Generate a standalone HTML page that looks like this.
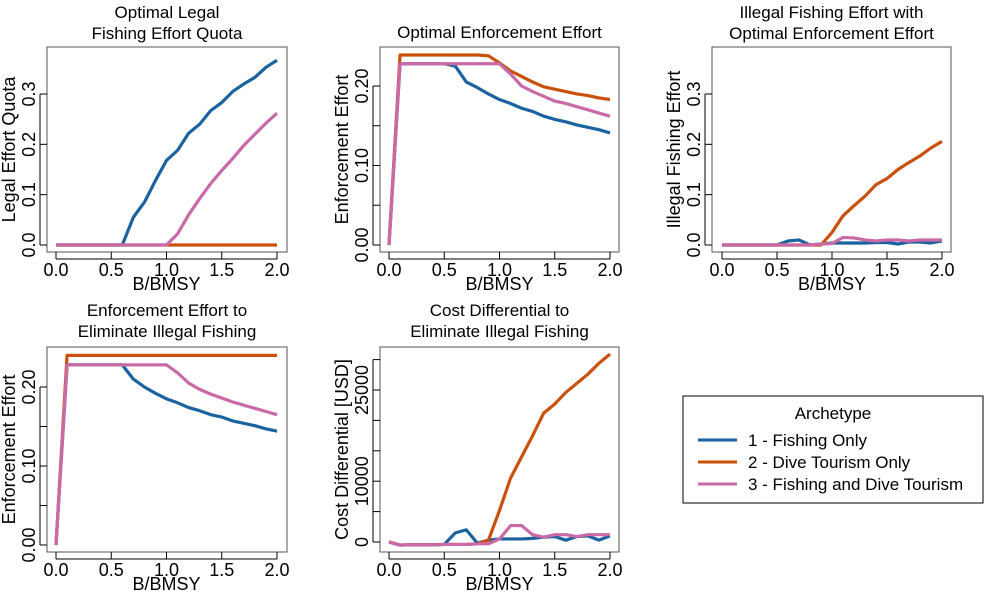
<!DOCTYPE html>
<html><head><meta charset="utf-8"><style>
body{margin:0;background:#fff;}
svg text{font-family:"Liberation Sans",sans-serif;fill:#000;}
</style></head><body>
<svg id="c" width="1000" height="600" xmlns="http://www.w3.org/2000/svg"></svg>
<script>
const xs=[0,0.1,0.2,0.3,0.4,0.5,0.6,0.7,0.8,0.9,1.0,1.1,1.2,1.3,1.4,1.5,1.6,1.7,1.8,1.9,2.0];
const xTicks=[0,0.5,1.0,1.5,2.0];
const xTickLabels=["0.0","0.5","1.0","1.5","2.0"];
const seriesNames=["1 - Fishing Only","2 - Dive Tourism Only","3 - Fishing and Dive Tourism"];
const colors=["#1b62a0","#c9510c","#c96aa6"];
// Panel 1: Legal effort quota
const quotaBlue=[0,0,0,0,0,0,0,0.055,0.085,0.128,0.168,0.188,0.222,0.24,0.267,0.283,0.305,0.32,0.333,0.353,0.367];
const quotaOrange=[0,0,0,0,0,0,0,0,0,0,0,0,0,0,0,0,0,0,0,0,0];
const quotaPink=[0,0,0,0,0,0,0,0,0,0,0,0.022,0.06,0.092,0.122,0.148,0.172,0.198,0.22,0.242,0.262];
const quotaTicks=[0,0.1,0.2,0.3];
const quotaTickLabels=["0.0","0.1","0.2","0.3"];
// Panel 2: Optimal enforcement
const enfBlue=[0,0.228,0.228,0.228,0.228,0.228,0.225,0.205,0.198,0.19,0.183,0.178,0.172,0.168,0.162,0.158,0.155,0.151,0.148,0.145,0.141];
const enfOrange=[0,0.239,0.239,0.239,0.239,0.239,0.239,0.239,0.239,0.238,0.229,0.219,0.212,0.205,0.199,0.196,0.193,0.19,0.188,0.185,0.183];
const enfPink=[0,0.228,0.228,0.228,0.228,0.228,0.228,0.228,0.228,0.228,0.228,0.215,0.2,0.193,0.187,0.181,0.178,0.174,0.17,0.166,0.162];
const enfTicks=[0,0.05,0.1,0.15,0.2];
const enfTickLabels=["0.00","","0.10","","0.20"];
// Panel 3: Illegal fishing effort
const illBlue=[0,0,0,0,0,0,0.008,0.01,0,0.002,0.004,0.004,0.004,0.004,0.005,0.005,0.002,0.006,0.006,0.004,0.008];
const illOrange=[0,0,0,0,0,0,0,0,0,0,0.025,0.058,0.078,0.097,0.12,0.132,0.15,0.164,0.177,0.193,0.206];
const illPink=[0,0,0,0,0,0,0,0,0,0.002,0.003,0.015,0.014,0.01,0.008,0.01,0.01,0.008,0.01,0.01,0.01];
const illTicks=[0,0.1,0.2,0.3];
const illTickLabels=["0.0","0.1","0.2","0.3"];
// Panel 4: Enforcement to eliminate
const elimBlue=[0,0.228,0.228,0.228,0.228,0.228,0.228,0.21,0.2,0.192,0.185,0.18,0.174,0.17,0.165,0.162,0.157,0.154,0.151,0.147,0.144];
const elimOrange=[0,0.24,0.24,0.24,0.24,0.24,0.24,0.24,0.24,0.24,0.24,0.24,0.24,0.24,0.24,0.24,0.24,0.24,0.24,0.24,0.24];
const elimPink=[0,0.228,0.228,0.228,0.228,0.228,0.228,0.228,0.228,0.228,0.228,0.218,0.205,0.197,0.191,0.186,0.181,0.177,0.173,0.169,0.165];
const elimTicks=[0,0.05,0.1,0.15,0.2];
const elimTickLabels=["0.00","","0.10","","0.20"];
// Panel 5: Cost differential
const costBlue=[0,-500,-450,-450,-450,-400,1500,2000,-200,300,500,500,500,600,800,900,300,900,1000,300,1000];
const costOrange=[0,-500,-450,-450,-450,-400,-400,-400,-300,300,5200,10500,14000,17500,21200,22700,24600,26100,27600,29400,30900];
const costPink=[0,-500,-450,-450,-450,-400,-400,-400,-300,-300,500,2700,2700,1200,800,1200,1200,900,1200,1200,1200];
const costTicks=[0,5000,10000,15000,20000,25000,30000];
const costTickLabels=["0","","10000","","","25000",""];

const svg=document.getElementById('c');
const NS="http://www.w3.org/2000/svg";
function mk(tag,attrs,parent){const e=document.createElementNS(NS,tag);for(const k in attrs)e.setAttribute(k,attrs[k]);(parent||svg).appendChild(e);return e;}

function panel(o){
  const g=mk('g',{});
  
  
  const sx=v=>o.x0+(v-0)/2*(o.x1-o.x0);
  const sy=v=>o.y0-(v-o.ymin)/(o.yref-o.ymin)*(o.y0-o.yrefPx);
  const box=mk('rect',{x:o.bx0,y:o.by0,width:o.bx1-o.bx0,height:o.by1-o.by0,fill:'none',stroke:'#555','stroke-width':1},g);
  
  
  o.titles.forEach((t,i)=>{const tt=mk('text',{x:(o.bx0+o.bx1)/2,y:o.titleY+i*21,'text-anchor':'middle','font-size':17},g);tt.textContent=t;
    
    });
  xTicks.forEach((v,i)=>{const x=sx(v);mk('line',{x1:x,x2:x,y1:o.by1,y2:o.by1+7,stroke:'#000'},g);
    const t=mk('text',{x:x,y:o.by1+24,'text-anchor':'middle','font-size':18},g);t.textContent=xTickLabels[i];
    
    });
  mk('line',{x1:sx(0),x2:sx(2),y1:o.by1+7,y2:o.by1+7,stroke:'#000'},g);
  const xl=mk('text',{x:sx(1),y:o.by1+38,'text-anchor':'middle','font-size':18},g);xl.textContent='B/BMSY';
  
  
  o.ticks.forEach((v,i)=>{const y=sy(v);mk('line',{x1:o.bx0-7,x2:o.bx0,y1:y,y2:y,stroke:'#000'},g);
    if(o.tickLabels[i]){const t=mk('text',{x:0,y:0,'text-anchor':'middle','font-size':18,transform:`translate(${o.bx0-12},${y}) rotate(-90)`},g);t.textContent=o.tickLabels[i];
    
    }});
  mk('line',{x1:o.bx0-7,x2:o.bx0-7,y1:sy(o.ticks[0]),y2:sy(o.ticks[o.ticks.length-1]),stroke:'#000'},g);
  const yl=mk('text',{x:0,y:0,'text-anchor':'middle','font-size':18,transform:`translate(${o.bx0-32},${(o.by0+o.by1)/2}) rotate(-90)`},g);yl.textContent=o.ylab;
  
  
  o.series.forEach((arr,si)=>{
    const p=mk('polyline',{points:arr.map((v,i)=>sx(xs[i])+','+sy(v)).join(' '),fill:'none',stroke:colors[si],'stroke-width':3.2,'stroke-linejoin':'round'},g);
    
    
  });
}
panel({name:'legal-quota-panel',bx0:47,bx1:287,by0:47,by1:252,x0:56,x1:277,ymin:0,y0:245,yref:0.3,yrefPx:94,
  titles:['Optimal Legal','Fishing Effort Quota'],titleY:18,ticks:quotaTicks,tickLabels:quotaTickLabels,ylab:'Legal Effort Quota',
  series:[quotaBlue,quotaOrange,quotaPink]});
panel({name:'optimal-enforcement-panel',bx0:380,bx1:619,by0:47,by1:252,x0:389,x1:610,ymin:0,y0:245,yref:0.2,yrefPx:86,
  titles:['Optimal Enforcement Effort'],titleY:38,ticks:enfTicks,tickLabels:enfTickLabels,ylab:'Enforcement Effort',
  series:[enfBlue,enfOrange,enfPink]});
panel({name:'illegal-fishing-panel',bx0:712,bx1:951,by0:47,by1:252,x0:722,x1:942,ymin:0,y0:245,yref:0.3,yrefPx:94,
  titles:['Illegal Fishing Effort with','Optimal Enforcement Effort'],titleY:18,ticks:illTicks,tickLabels:illTickLabels,ylab:'Illegal Fishing Effort',
  series:[illBlue,illOrange,illPink]});
panel({name:'eliminate-enforcement-panel',bx0:47,bx1:287,by0:347,by1:552,x0:56,x1:277,ymin:0,y0:545,yref:0.2,yrefPx:387,
  titles:['Enforcement Effort to','Eliminate Illegal Fishing'],titleY:316,ticks:elimTicks,tickLabels:elimTickLabels,ylab:'Enforcement Effort',
  series:[elimBlue,elimOrange,elimPink]});
panel({name:'cost-differential-panel',bx0:380,bx1:619,by0:347,by1:552,x0:389,x1:610,ymin:0,y0:542,yref:25000,yrefPx:390,
  titles:['Cost Differential to','Eliminate Illegal Fishing'],titleY:316,ticks:costTicks,tickLabels:costTickLabels,ylab:'Cost Differential [USD]',
  series:[costBlue,costOrange,costPink]});

const lg=mk('g',{});


mk('rect',{x:683,y:396,width:300,height:107,fill:'#fff',stroke:'#000'},lg);
const lt=mk('text',{x:833,y:419,'text-anchor':'middle','font-size':17},lg);lt.textContent='Archetype';


seriesNames.forEach((n,i)=>{
  const y=440+i*22;
  const e=mk('g',{},lg);
  
  
  mk('line',{x1:698,x2:737,y1:y,y2:y,stroke:colors[i],'stroke-width':3},e);
  const t=mk('text',{x:748,y:y+6,'font-size':17},e);t.textContent=n;
});
</script>
</body></html>
